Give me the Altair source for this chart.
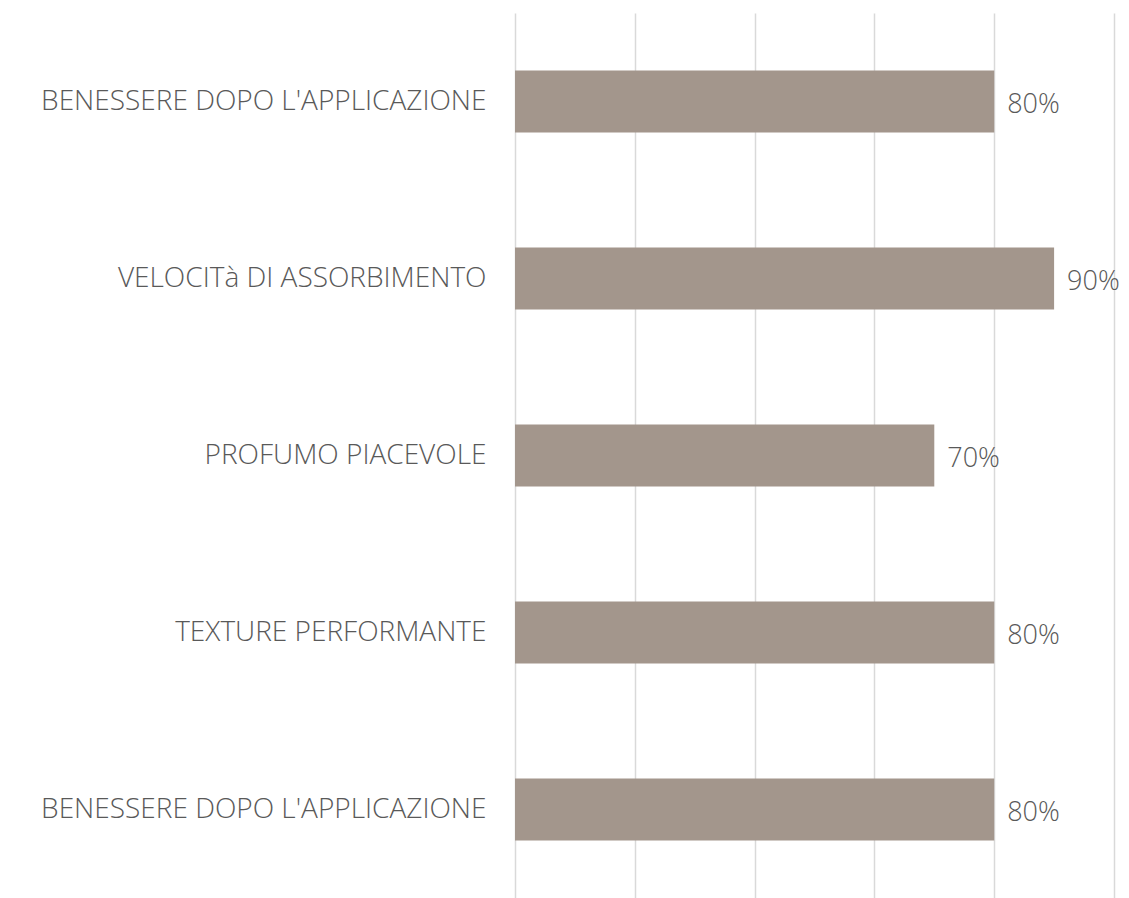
import json
import altair as alt
import pandas as pd

categories = [
    "BENESSERE DOPO L'APPLICAZIONE",
    "VELOCITà DI ASSORBIMENTO",
    "PROFUMO PIACEVOLE",
    "TEXTURE PERFORMANTE",
    "BENESSERE DOPO L'APPLICAZIONE",
]
values = [0.80, 0.90, 0.70, 0.80, 0.80]
grid_ticks = [0, 0.2, 0.4, 0.6, 0.8, 1.0]

df = pd.DataFrame({"id": list(range(len(categories))), "cat": categories, "value": values})

FONT = "Open Sans"
TXT = "#595959"
label_expr = json.dumps(categories) + "[datum.value]"

y_enc = alt.Y(
    "id:O",
    sort="ascending",
    title=None,
    scale=alt.Scale(paddingInner=0.65),
    axis=alt.Axis(
        labelExpr=label_expr,
        domain=False,
        ticks=False,
        labelPadding=29,
        labelFontSize=28,
        labelFontWeight=300,
        labelColor=TXT,
        labelFont=FONT,
        labelLimit=0,
        grid=False,
    ),
)
x_enc = alt.X(
    "value:Q",
    title=None,
    scale=alt.Scale(domain=[0, 1], nice=False),
    axis=alt.Axis(
        values=grid_ticks,
        labels=False,
        ticks=False,
        domain=False,
        grid=True,
        gridColor="#D9D9D9",
        gridWidth=1.5,
    ),
)

bars = alt.Chart(df).mark_bar(color="#A3968C").encode(x=x_enc, y=y_enc)
text = alt.Chart(df).mark_text(
    align="left", baseline="middle", dx=13, dy=3, fontSize=27, fontWeight=300,
    font=FONT, color=TXT
).encode(
    x=alt.X("value:Q"),
    y=alt.Y("id:O", sort="ascending"),
    text=alt.Text("value:Q", format=".0%"),
)

chart = (
    alt.layer(bars, text)
    .properties(
        width=599,
        height=885,
        background="white",
        autosize=alt.AutoSizeParams(type="none"),
        padding={"left": 507, "top": 5, "right": 7, "bottom": 0},
    )
    .configure_view(stroke=None, strokeWidth=0)
)

chart.save("out.html", embed_options={"renderer": "svg", "actions": False})
